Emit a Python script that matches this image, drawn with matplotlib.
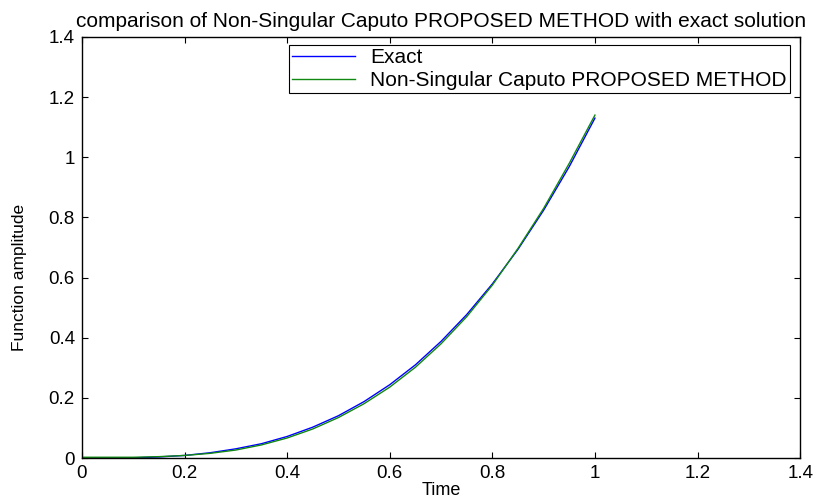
import numpy as np
import matplotlib
matplotlib.use('Agg')
import matplotlib.pyplot as plt

# values
time = [0, 0.05, 0.1, 0.15, 0.2, 0.25, 0.3, 0.35, 0.4, 0.45, 0.5,
        0.55, 0.6, 0.65, 0.7, 0.75, 0.8, 0.85, 0.9, 0.95, 1.0]
exact = [0, 0.0001, 0.001, 0.004, 0.009, 0.018, 0.031, 0.048, 0.072, 0.103, 0.141,
         0.188, 0.244, 0.310, 0.388, 0.477, 0.579, 0.694, 0.824, 0.969, 1.13]
proposed = [0.003, 0.003, 0.003, 0.005, 0.009, 0.016, 0.027, 0.044, 0.067, 0.097, 0.135,
            0.181, 0.236, 0.302, 0.380, 0.470, 0.575, 0.697, 0.830, 0.980, 1.14]
ticks = [0, 0.2, 0.4, 0.6, 0.8, 1, 1.2, 1.4]
tick_labels = ['0', '0.2', '0.4', '0.6', '0.8', '1', '1.2', '1.4']

plt.rcParams['font.family'] = ['Liberation Sans', 'DejaVu Sans']

fig = plt.figure(figsize=(8.19, 4.98), dpi=100)
ax = fig.add_axes([0.100, 0.080, 0.877, 0.846])

ax.plot(time, exact, color='#0000ff', linewidth=1.0, label='Exact')
ax.plot(time, proposed, color='#118811', linewidth=1.0, label='Non-Singular Caputo PROPOSED METHOD')

ax.set_xlim(0, 1.4)
ax.set_ylim(0, 1.4)
ax.set_xticks(ticks)
ax.set_xticklabels(tick_labels)
ax.set_yticks(ticks)
ax.set_yticklabels(tick_labels)
ax.tick_params(direction='in', top=True, right=True, length=4, labelsize=13.5, pad=5)
for s in ax.spines.values():
    s.set_linewidth(1.0)

ax.set_xlabel('Time', fontsize=13, labelpad=0)
ax.set_ylabel('Function amplitude', fontsize=12.5)
ax.yaxis.set_label_coords(-0.077, 0.43)
ax.set_title('comparison of Non-Singular Caputo PROPOSED METHOD with exact solution',
             fontsize=15, pad=7)

leg = ax.legend(loc='upper right', bbox_to_anchor=(0.986, 0.981), fontsize=15,
                fancybox=False, framealpha=1, edgecolor='black', borderaxespad=0,
                handlelength=3.0, handletextpad=0.75, borderpad=0.15, labelspacing=0.2)
leg.get_frame().set_linewidth(0.8)

fig.savefig('out.png', dpi=100)
